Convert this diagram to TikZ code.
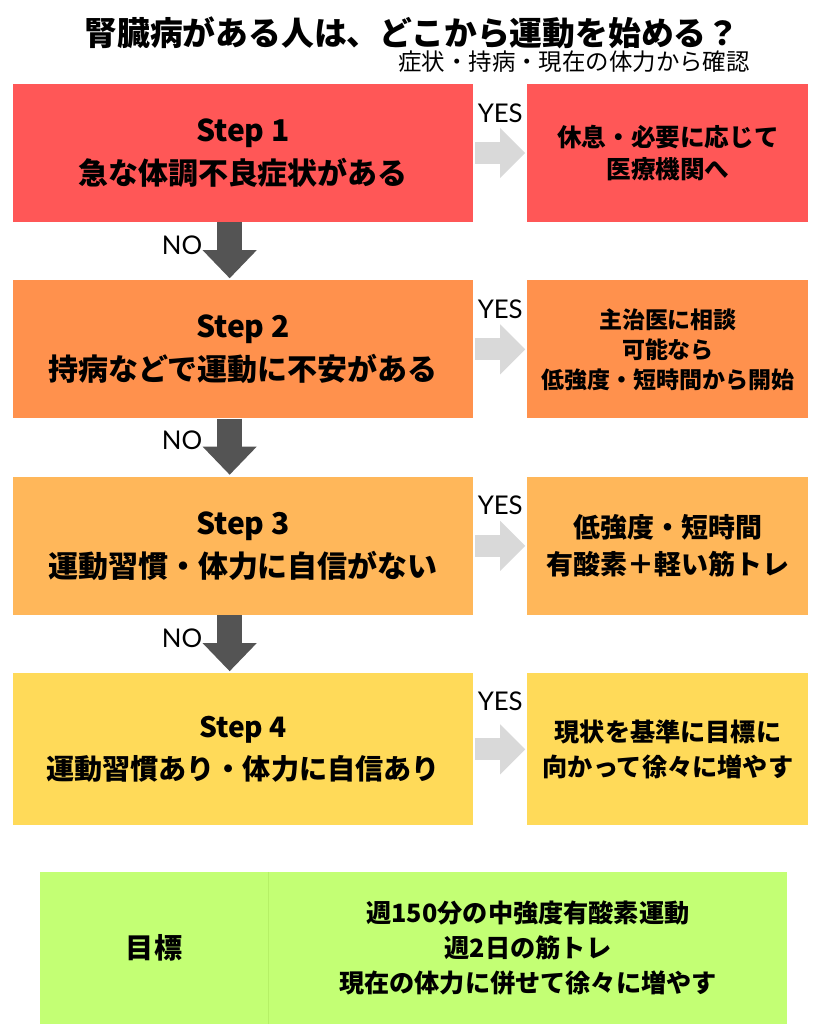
\documentclass[tikz,border=0pt]{standalone}
\usepackage{fontspec}
\setmainfont{Noto Sans CJK JP}
\newfontfamily\latinfont{Lato}
\usepackage{tikz}
\usetikzlibrary{positioning}
\usetikzlibrary{arrows.meta}

\definecolor{StepRed}{HTML}{FF5757}
\definecolor{StepOrange}{HTML}{FF914D}
\definecolor{StepAmber}{HTML}{FFB75A}
\definecolor{StepYellow}{HTML}{FFDA59}
\definecolor{GoalGreen}{HTML}{C3FF74}
\definecolor{GoalLine}{HTML}{B5F066}
\definecolor{YesGray}{HTML}{D9D9D9}
\definecolor{NoGray}{HTML}{545454}

\begin{document}
\begin{tikzpicture}[x=0.3mm, y=-0.3mm,
  node distance=17.4mm and 16.2mm,
  stepbox/.style={minimum width=138mm, minimum height=41.4mm, inner sep=0pt, align=center,
    font=\bfseries\fontsize{25.6}{37}\selectfont},
  ansbox/.style={minimum width=84.3mm, minimum height=41.4mm, inner sep=0pt, align=center,
    font=\bfseries\fontsize{21}{28}\selectfont},
  goalbox/.style={fill=GoalGreen, minimum height=45.6mm, inner sep=0pt, align=center},
  yesarrow/.style={draw=YesGray, line width=6.6mm,
    -{Triangle[width=15mm, length=7.5mm, line width=0pt]}, shorten <=0.6mm, shorten >=0.6mm},
  noarrow/.style={draw=NoGray, line width=7.5mm,
    -{Triangle[width=16.2mm, length=8.4mm, line width=0pt]}, shorten >=0.6mm},
  yntext/.style={font=\latinfont\fontsize{22}{22}\selectfont, inner sep=0pt}
]
\useasboundingbox (0,0) rectangle (819,1024);

% title
\node[font=\bfseries\fontsize{28}{34}\selectfont] (title) at (412,33) {腎臓病がある人は、どこから運動を始める？};
\node[anchor=east, font=\fontsize{20}{24}\selectfont, inner sep=0pt] (subtitle) at (750,62) {症状・持病・現在の体力から確認};

% steps
\node[stepbox, fill=StepRed] (s1) at (243,153) {Step 1\\急な体調不良症状がある};
\node[stepbox, fill=StepOrange, below=of s1] (s2) {Step 2\\持病などで運動に不安がある};
\node[stepbox, fill=StepAmber, below=of s2] (s3) {Step 3\\運動習慣・体力に自信がない};
\node[stepbox, fill=StepYellow, minimum height=45.6mm, below=of s3, font=\bfseries\fontsize{24}{36}\selectfont] (s4) {Step 4\\運動習慣あり・体力に自信あり};

% answers
\node[ansbox, fill=StepRed, right=of s1] (r1) {休息・必要に応じて\\医療機関へ};
\node[ansbox, fill=StepOrange, right=of s2, font=\bfseries\fontsize{19.6}{25.6}\selectfont] (r2) {主治医に相談\\可能なら\\低強度・短時間から開始};
\node[ansbox, fill=StepAmber, right=of s3, font=\bfseries\fontsize{23}{32}\selectfont] (r3) {低強度・短時間\\有酸素＋軽い筋トレ};
\node[ansbox, fill=StepYellow, minimum height=45.6mm, right=of s4, font=\bfseries\fontsize{21.5}{30}\selectfont] (r4) {現状を基準に目標に\\向かって徐々に増やす};

% yes arrows
\draw[yesarrow] (s1.east) -- (r1.west);
\draw[yesarrow] (s2.east) -- (r2.west);
\draw[yesarrow] (s3.east) -- (r3.west);
\draw[yesarrow] (s4.east) -- (r4.west);
\node[yntext] (y1) at ([xshift=8.1mm, yshift=-8.7mm]s1.north east) {YES};
\node[yntext] (y2) at ([xshift=8.1mm, yshift=-8.7mm]s2.north east) {YES};
\node[yntext] (y3) at ([xshift=8.1mm, yshift=-8.7mm]s3.north east) {YES};
\node[yntext] (y4) at ([xshift=8.1mm, yshift=-8.4mm]s4.north east) {YES};

% no arrows
\draw[noarrow] ([xshift=-4mm]s1.south) -- ([xshift=-4mm]s2.north);
\draw[noarrow] ([xshift=-4mm]s2.south) -- ([xshift=-4mm]s3.north);
\draw[noarrow] ([xshift=-4mm]s3.south) -- ([xshift=-4mm]s4.north);
\node[yntext] (n1) at ([xshift=-18.3mm, yshift=-6.9mm]s1.south) {NO};
\node[yntext] (n2) at ([xshift=-18.3mm, yshift=-6.6mm]s2.south) {NO};
\node[yntext] (n3) at ([xshift=-18.3mm, yshift=-6.9mm]s3.south) {NO};

% goal
\node[goalbox, minimum width=68.4mm, font=\bfseries\fontsize{24}{30}\selectfont] (goal) at (154,948) {目標};
\node[goalbox, minimum width=155.7mm, right=0pt of goal, font=\bfseries\fontsize{21.5}{30}\selectfont] (goaltext) {週150分の中強度有酸素運動\\週2日の筋トレ\\現在の体力に併せて徐々に増やす};
\draw[GoalLine, line width=0.6pt] (goal.north east) -- (goal.south east);
\end{tikzpicture}
\end{document}
